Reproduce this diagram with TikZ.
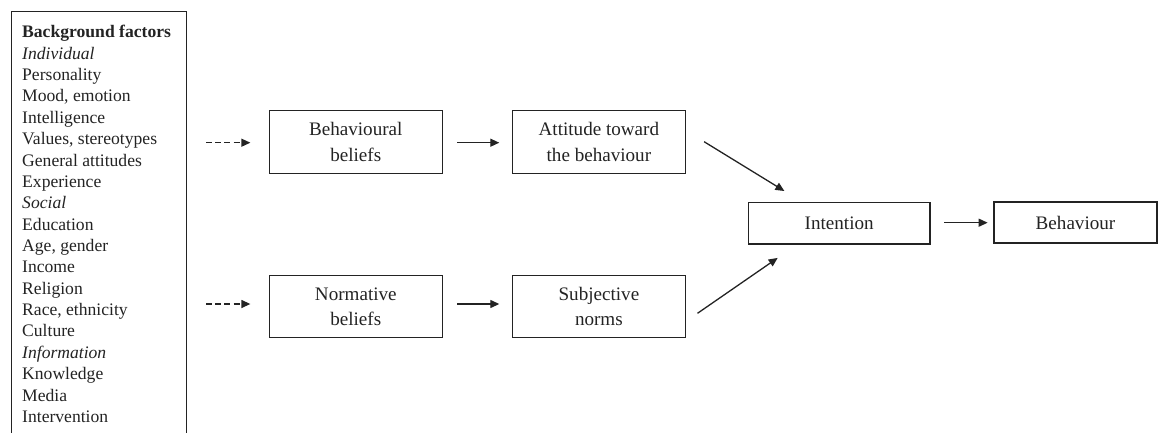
\documentclass[tikz,border=0pt]{standalone}
\usepackage{fontspec}
\setmainfont{Liberation Serif}
\usetikzlibrary{arrows.meta,calc}
\definecolor{ink}{RGB}{35,35,35}
\tikzset{
  stepbox/.style={draw=ink, line width=1.3pt, inner sep=0pt, align=center,
    text=ink, font=\fontsize{19.1}{25.5}\selectfont},
  arr/.style={draw=ink, line width=1.3pt, -{Triangle[length=9pt,width=8pt]}},
  darr/.style={arr, dash pattern=on 6pt off 3.2pt},
}
\begin{document}
\begin{tikzpicture}[x=1pt,y=-1pt]
\useasboundingbox (0,0) rectangle (1161,433);
% background factors frame (bottom edge lies below the page)
\node[draw=ink, line width=1.3pt, minimum width=175pt, minimum height=450pt,
      inner sep=0pt, anchor=north west] (frame) at (11,11) {};
\node[anchor=north west, inner sep=0pt, align=left, text=ink,
      font=\fontsize{17.6}{21.37}\selectfont] (bgtext) at (22,25.2)
 {\textbf{Background factors}\\
  \textit{Individual}\\
  Personality\\
  Mood, emotion\\
  Intelligence\\
  Values, stereotypes\\
  General attitudes\\
  Experience\\
  \textit{Social}\\
  Education\\
  Age, gender\\
  Income\\
  Religion\\
  Race, ethnicity\\
  Culture\\
  \textit{Information}\\
  Knowledge\\
  Media\\
  Intervention};

\node[stepbox, minimum width=173pt, minimum height=63pt] (bb) at (355.8,142.2) {Behavioural\\beliefs};
\node[stepbox, minimum width=172.5pt, minimum height=63pt] (att) at (598.9,142.2) {Attitude toward\\the behaviour};
\node[stepbox, minimum width=173pt, minimum height=62pt] (nb) at (355.8,306.7) {Normative\\beliefs};
\node[stepbox, minimum width=172.5pt, minimum height=62pt] (sn) at (598.9,306.7) {Subjective\\norms};
\node[stepbox, minimum width=181.7pt, minimum height=41.3pt] (int) at (839.2,223.3) {Intention};
\node[stepbox, minimum width=163pt, minimum height=41pt] (beh) at (1075.5,222.5) {Behaviour};

\coordinate (d1) at (206,142.7);
\coordinate (d2) at (206,304);

\draw[darr, shorten >=18.3pt] (d1) -- (d1 -| bb.west);
\draw[darr, shorten >=18.3pt] (d2) -- (d2 -| nb.west);
\draw[arr, shorten <=14.4pt, shorten >=12.7pt] ($(bb.east)+(0,0.5)$) -- ($(att.west)+(0,0.5)$);
\draw[arr, shorten <=14.4pt, shorten >=12.7pt] ($(nb.east)+(0,-2.7)$) -- ($(sn.west)+(0,-2.7)$);
\draw[arr] ($(att.east)+(18.3,-0.5)$) -- ($(int.north west)+(36.7,-11)$);
\draw[arr] ($(sn.east)+(11.7,6.6)$) -- ($(int.south west)+(30,13.3)$);
\draw[arr, shorten <=13.3pt, shorten >=5.7pt] ($(int.east)+(0,-0.6)$) -- ($(beh.west)+(0,0.2)$);
\end{tikzpicture}
\end{document}
